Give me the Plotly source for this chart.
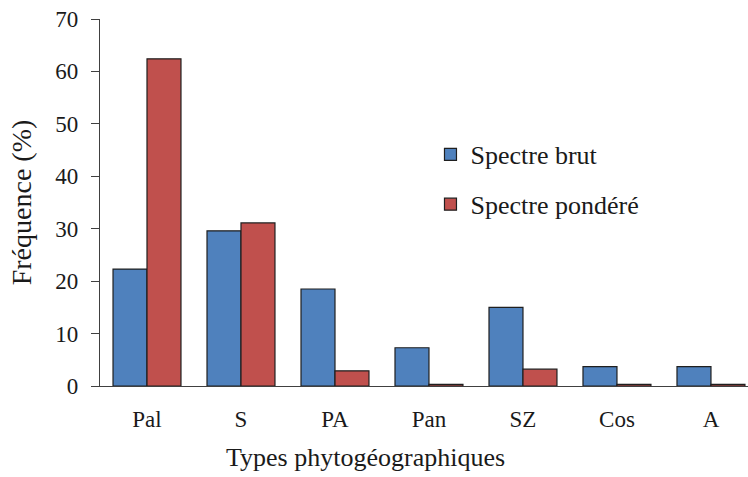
import plotly.graph_objects as go

categories = ["Pal", "S", "PA", "Pan", "SZ", "Cos", "A"]
spectre_brut = [22.3, 29.6, 18.5, 7.3, 15.0, 3.7, 3.7]
spectre_pondere = [62.4, 31.1, 2.9, 0.3, 3.2, 0.3, 0.3]
series_names = ["Spectre brut", "Spectre pondéré"]
y_ticks = [0, 10, 20, 30, 40, 50, 60, 70]

FONT = "Liberation Serif"
TXT = "#1a1a1a"

fig = go.Figure()
fig.add_trace(go.Bar(x=categories, y=spectre_brut, name=series_names[0],
                     marker=dict(color="#4F81BD", line=dict(color="#1f1f1f", width=1.2)),
                     legendgroup="a"))
fig.add_trace(go.Bar(x=categories, y=spectre_pondere, name=series_names[1],
                     marker=dict(color="#C0504D", line=dict(color="#1f1f1f", width=1.2)),
                     legendgroup="b"))

fig.add_annotation(text="Types phytogéographiques", xref="paper", yref="paper",
                   x=0.41, y=-0.195, xanchor="center", yanchor="middle", showarrow=False,
                   font=dict(family=FONT, size=26, color=TXT))

fig.update_layout(
    width=748, height=477,
    margin=dict(l=100, r=0, t=19, b=91),
    plot_bgcolor="white", paper_bgcolor="white",
    barmode="group", bargap=0.277, bargroupgap=0,
    font=dict(family=FONT, size=23, color=TXT),
    legend=dict(x=0.51, y=0.695, xanchor="left", yanchor="top",
                font=dict(family=FONT, size=26, color=TXT),
                traceorder="grouped", tracegroupgap=13,
                bgcolor="rgba(0,0,0,0)"),
    xaxis=dict(range=[-0.5, 6.394], showline=True, linecolor="#404040", linewidth=1.3,
               ticks="", showgrid=False, ticklabelstandoff=12, automargin=False,
               tickfont=dict(family=FONT, size=23, color=TXT)),
    yaxis=dict(range=[0, 70], tickvals=y_ticks, showline=True, linecolor="#404040",
               linewidth=1.3, ticks="outside", ticklen=8, tickcolor="#404040",
               tickwidth=1.3, showgrid=False, zeroline=False, ticklabelstandoff=8,
               automargin=False,
               tickfont=dict(family=FONT, size=23, color=TXT),
               title=dict(text="Fréquence (%)", standoff=15,
                          font=dict(family=FONT, size=28, color=TXT))),
)

fig.write_html("out.html", config={"displayModeBar": False},
               post_script="document.body.style.margin='0';")
